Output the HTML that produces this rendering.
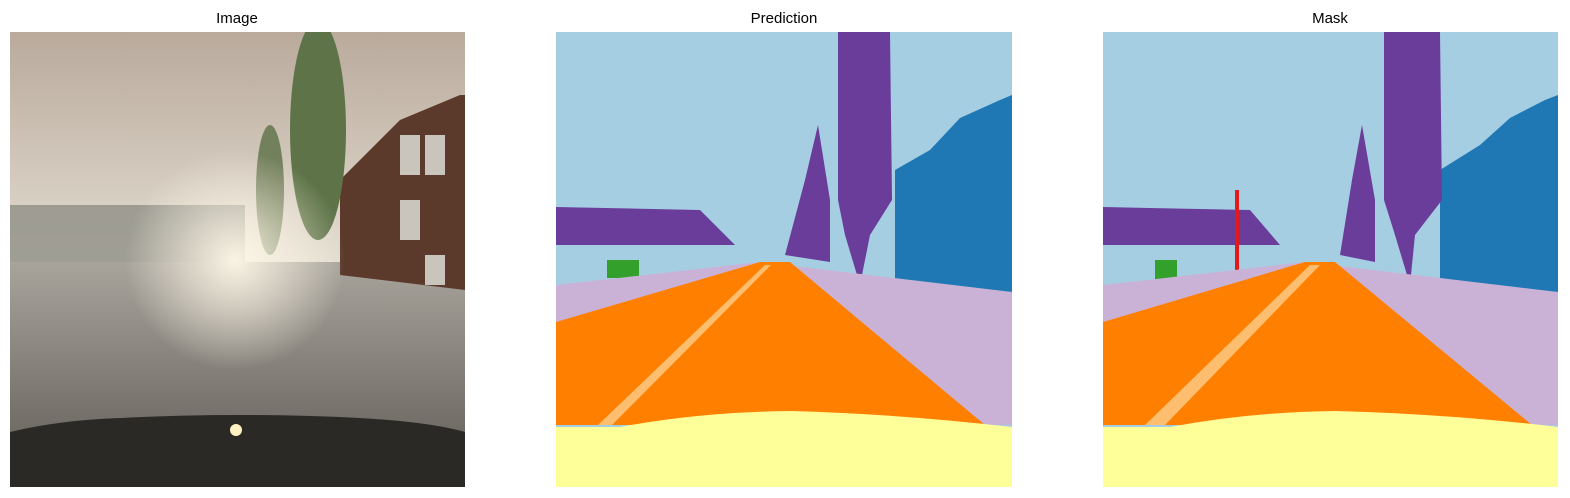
<!DOCTYPE html>
<html><head><meta charset="utf-8"><style>
html,body{margin:0;padding:0;background:#fff;}
svg{display:block;}
text{font-family:"Liberation Sans","DejaVu Sans",sans-serif;font-size:15px;fill:#000;}
</style></head><body>
<svg width="1570" height="498" viewBox="0 0 1570 498">
<defs>
<linearGradient id="sky" x1="0" y1="0" x2="0" y2="1">
<stop offset="0" stop-color="#b9aa9c"/><stop offset="0.5" stop-color="#e2dcd0"/><stop offset="1" stop-color="#efe9dc"/>
</linearGradient>
<radialGradient id="glow" cx="0.5" cy="0.5" r="0.5">
<stop offset="0" stop-color="#fff8e8" stop-opacity="0.95"/><stop offset="1" stop-color="#fff8e8" stop-opacity="0"/>
</radialGradient>
<linearGradient id="road" x1="0" y1="0" x2="0" y2="1">
<stop offset="0" stop-color="#a8a49c"/><stop offset="1" stop-color="#5e5a54"/>
</linearGradient>
<clipPath id="imgclip"><rect x="10" y="32" width="455" height="455"/></clipPath>
</defs>

<text x="237" y="23" text-anchor="middle">Image</text>
<text x="784" y="23" text-anchor="middle">Prediction</text>
<text x="1330" y="23" text-anchor="middle">Mask</text>

<g clip-path="url(#imgclip)">
<rect x="10" y="32" width="455" height="455" fill="url(#sky)"/>
<rect x="10" y="205" width="235" height="60" fill="#8e8e86" opacity="0.8"/>
<polygon points="10,262 465,262 465,487 10,487" fill="url(#road)"/>
<polygon points="340,180 400,120 460,95 465,95 465,290 340,275" fill="#5b3a2c"/>
<rect x="400" y="135" width="20" height="40" fill="#c9c4bc"/>
<rect x="425" y="135" width="20" height="40" fill="#c9c4bc"/>
<rect x="400" y="200" width="20" height="40" fill="#c9c4bc"/>
<rect x="425" y="255" width="20" height="30" fill="#c9c4bc"/>
<ellipse cx="318" cy="130" rx="28" ry="110" fill="#5e7448"/>
<ellipse cx="270" cy="190" rx="14" ry="65" fill="#73805c"/>
<ellipse cx="235" cy="260" rx="110" ry="110" fill="url(#glow)"/>
<path d="M10,487 L10,432 Q60,420 120,418 Q240,412 360,418 Q430,422 465,432 L465,487 Z" fill="#2b2926"/>
<circle cx="236" cy="430" r="6" fill="#fff2c0"/>
</g>

<g>
<rect x="556" y="32" width="456" height="455" fill="#a6cee3"/>
<polygon points="895,170 930,150 960,118 1000,100 1012,95 1012,292 895,285" fill="#1f78b4"/>
<polygon points="556,207 700,210 735,245 556,245" fill="#6a3d9a"/>
<polygon points="838,32 890,32 892,200 870,235 860,285 845,235 838,200" fill="#6a3d9a"/>
<polygon points="785,255 805,180 818,125 830,200 830,262" fill="#6a3d9a"/>
<rect x="607" y="260" width="32" height="18" fill="#33a02c"/>
<polygon points="556,285 760,262 1012,292 1012,425 556,425" fill="#cab2d6"/>
<polygon points="556,322 760,262 790,262 985,425 556,425" fill="#ff7f00"/>
<polygon points="598,425 765,265 771,265 612,425" fill="#fdbf6f"/>
<path d="M556,487 L556,427 L620,427 Q700,412 790,411 Q900,414 1012,427 L1012,487 Z" fill="#ffff99"/>
</g>

<g>
<rect x="1103" y="32" width="455" height="455" fill="#a6cee3"/>
<polygon points="1440,170 1480,145 1510,118 1545,100 1558,95 1558,292 1440,285" fill="#1f78b4"/>
<polygon points="1103,207 1250,210 1280,245 1103,245" fill="#6a3d9a"/>
<polygon points="1384,32 1440,32 1442,200 1415,235 1410,285 1395,235 1384,200" fill="#6a3d9a"/>
<polygon points="1340,255 1352,180 1362,125 1375,200 1375,262" fill="#6a3d9a"/>
<rect x="1155" y="260" width="22" height="22" fill="#33a02c"/>
<rect x="1235" y="190" width="4" height="90" fill="#e31a1c"/>
<polygon points="1103,285 1305,262 1558,292 1558,425 1103,425" fill="#cab2d6"/>
<polygon points="1103,322 1305,262 1335,262 1532,425 1103,425" fill="#ff7f00"/>
<polygon points="1145,425 1310,265 1320,265 1165,425" fill="#fdbf6f"/>
<path d="M1103,487 L1103,427 L1170,427 Q1250,412 1335,411 Q1450,414 1558,427 L1558,487 Z" fill="#ffff99"/>
</g>
</svg>
</body></html>
